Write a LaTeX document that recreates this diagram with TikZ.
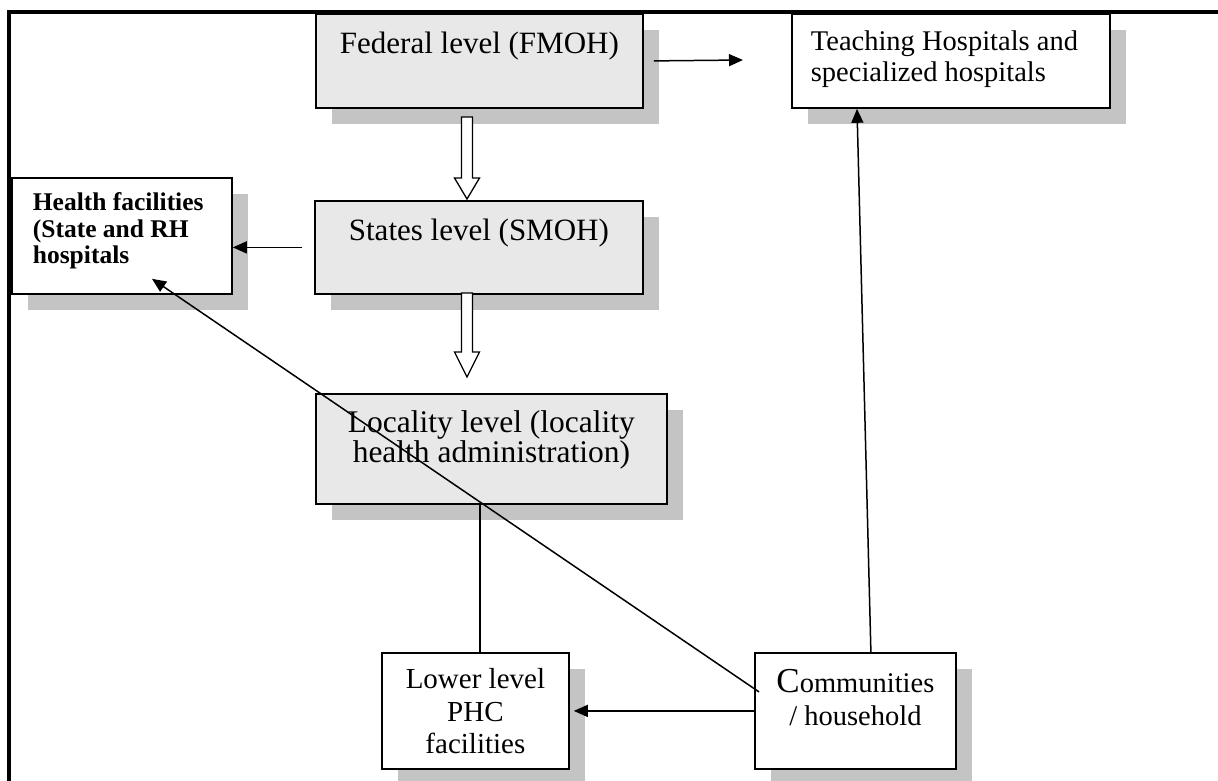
\documentclass[tikz,border=0pt]{standalone}
\usepackage{fontspec}
\setmainfont{Liberation Serif}
\usetikzlibrary{arrows.meta,shadows,calc}
\definecolor{boxgray}{HTML}{E8E8E8}
\definecolor{shgray}{HTML}{C4C4C4}
\tikzset{
 box/.style={draw, line width=1.8pt, inner sep=0pt, anchor=north west,
   drop shadow={shadow xshift=16pt, shadow yshift=-16pt, fill=shgray, opacity=1}},
 graybox/.style={box, fill=boxgray},
 whitebox/.style={box, fill=white},
 conn/.style={line width=1.5pt},
 arr/.style={conn, -{Triangle[length=14pt,width=12pt]}},
 hollow/.style={draw, fill=white, line width=1.3pt, line join=miter},
 frameline/.style={line width=4pt}
}
\begin{document}
\begin{tikzpicture}[x=1pt,y=-1pt]
\useasboundingbox (0,0) rectangle (1218,780);
\draw[frameline] (9,785) -- (9,12) -- (1222,12);

\node[graybox] (fed) at (315,13) {\parbox[t][94pt][t]{327pt}{\centering\fontsize{31}{33}\selectfont\rule{0pt}{40pt}Federal level (FMOH)}};
\node[whitebox] (teach) at (791,13) {\parbox[t][94pt][t]{318pt}{\raggedright\leftskip=19pt\fontsize{28.5}{31}\selectfont\rule{0pt}{37pt}Teaching Hospitals and\\specialized hospitals}};
\node[whitebox] (health) at (11,177) {\parbox[t][116pt][t]{220pt}{\raggedright\leftskip=21pt\fontsize{25.5}{26.5}\selectfont\bfseries\rule{0pt}{33pt}Health facilities\\(State and RH\\hospitals}};
\node[graybox] (states) at (314,200) {\parbox[t][93pt][t]{328pt}{\centering\fontsize{31}{33}\selectfont\rule{0pt}{40pt}States level (SMOH)}};
\node[graybox] (loc) at (315,393) {\parbox[t][110pt][t]{351pt}{\centering\fontsize{31.5}{28.5}\selectfont\rule{0pt}{39pt}Locality level (locality\\health administration)}};
\node[whitebox] (lower) at (381,652) {\parbox[t][116pt][t]{187pt}{\centering\fontsize{29}{32.5}\selectfont\rule{0pt}{36pt}Lower level\\PHC\\facilities}};
\node[whitebox] (comm) at (754,652) {\parbox[t][116pt][t]{201pt}{\centering\fontsize{28.5}{33}\selectfont\rule{0pt}{40pt}{\fontsize{35}{33}\selectfont C}ommunities\\/ household}};

% hollow arrows
\draw[hollow] (461.5,117) -- (472.5,117) -- (472.5,178) -- (479.5,178) -- (467,199) -- (454.5,178) -- (461.5,178) -- cycle;
\draw[hollow] (461.5,293) -- (472.5,293) -- (472.5,352) -- (479.5,352) -- (467,377) -- (454.5,352) -- (461.5,352) -- cycle;

% connectors
\coordinate (fedtip) at (743,60);
\draw[arr] ([xshift=10pt]fed.east) -- (fedtip);
\draw[arr] ([xshift=-12pt]states.west) -- (states.west -| health.east);
\draw[arr] (comm.west) -- ([xshift=4pt]lower.east);
\draw[arr] ([xshift=15.5pt]comm.north) -- ($(teach.south west)+(66,0)$);
\draw[arr] ($(comm.west)+(5,-19)$) -- ($(health.south west)+(141,-16)$);
\draw[conn] ([xshift=-11.5pt]loc.south) -- ([xshift=-11.5pt]loc.south |- lower.north);
\end{tikzpicture}
\end{document}
